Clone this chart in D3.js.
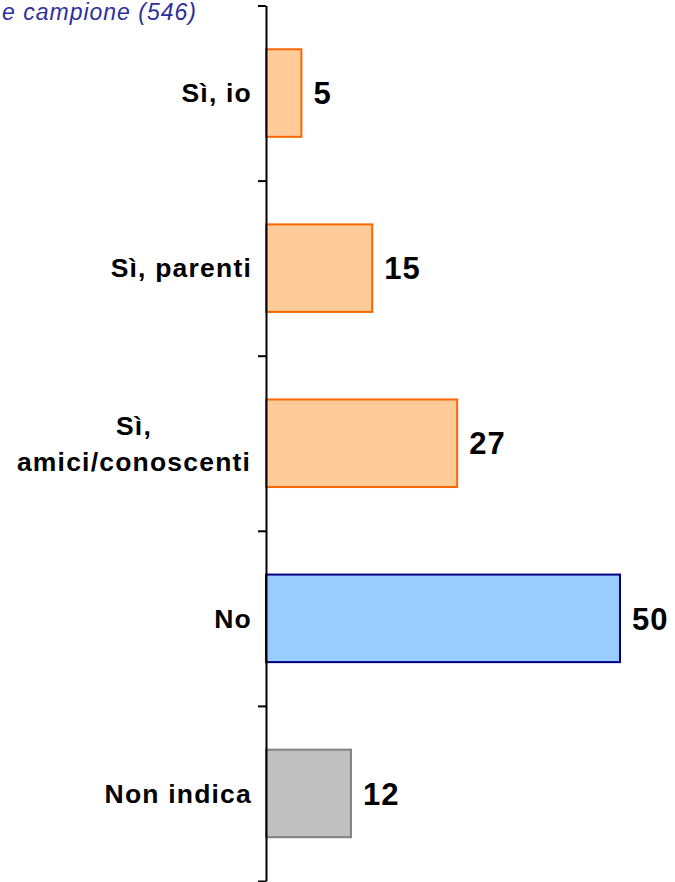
<!DOCTYPE html>
<html>
<head>
<meta charset="utf-8">
<script src="https://cdn.jsdelivr.net/npm/d3@7"></script>
<style>
  html, body { margin: 0; padding: 0; background: #fff; }
  svg { display: block; font-family: Arial, "Liberation Sans", sans-serif; }
</style>
</head>
<body>
<svg id="chart" width="675" height="882"></svg>
<script>
const categories = [["Sì, io"], ["Sì, parenti"], ["Sì,", "amici/conoscenti"], ["No"], ["Non indica"]];
const values = [5, 15, 27, 50, 12];
const fills = ["#FFCC99", "#FFCC99", "#FFCC99", "#99CCFF", "#C0C0C0"];
const strokes = ["#FF6600", "#FF6600", "#FF6600", "#000080", "#808080"];
const titleText = "e campione (546)";

const svg = d3.select("#chart");
const keys = categories.map((c, i) => i);

const y = d3.scaleBand().domain(keys).range([5.5, 881]).paddingInner(0.5).paddingOuter(0.25);
const x = d3.scaleLinear().domain([0, 50]).range([266, 620]);
const yb = d3.scaleLinear().domain([0, categories.length]).range([5.5, 881]);

// title at the top-left corner
svg.append("text")
  .attr("x", 2).attr("y", 20)
  .attr("font-size", 23).attr("font-style", "italic")
  .attr("letter-spacing", 1)
  .attr("fill", "#2E2E9E")
  .text(titleText);

// bars
svg.append("g").selectAll("rect").data(keys).join("rect")
  .attr("x", x(0))
  .attr("y", i => y(i))
  .attr("width", i => x(values[i]) - x(0))
  .attr("height", y.bandwidth())
  .attr("fill", i => fills[i])
  .attr("stroke", i => strokes[i])
  .attr("stroke-width", 2);

// axis with ticks at category boundaries
const axis = svg.append("g").attr("transform", `translate(${x(0)},0)`)
  .call(d3.axisLeft(yb).tickValues(d3.range(categories.length + 1)).tickFormat("").tickSize(8).tickSizeOuter(0));
axis.select(".domain").attr("stroke", "#000").attr("stroke-width", 2);
axis.selectAll(".tick line").attr("stroke", "#000").attr("stroke-width", 2);

// category labels
const lab = svg.append("g").selectAll("text").data(keys).join("text")
  .attr("font-size", 26.5).attr("font-weight", "bold").attr("letter-spacing", 1.2)
  .attr("fill", "#000")
  .attr("text-anchor", i => categories[i].length > 1 ? "middle" : "end");
lab.each(function(i) {
  const lines = categories[i];
  const t = d3.select(this);
  const lh = 36;
  lines.forEach((l, k) => {
    t.append("tspan")
      .attr("x", lines.length > 1 ? 134 : 252)
      .attr("y", y(i) + y.bandwidth() / 2 + (k - (lines.length - 1) / 2) * lh)
      .attr("dy", "0.35em")
      .text(l);
  });
});

// value labels
svg.append("g").selectAll("text").data(keys).join("text")
  .attr("x", i => x(values[i]) + 12)
  .attr("y", i => y(i) + y.bandwidth() / 2)
  .attr("dy", "0.36em")
  .attr("font-size", 31).attr("font-weight", "bold").attr("letter-spacing", 1)
  .attr("fill", "#000")
  .text(i => values[i]);
</script>
</body>
</html>
